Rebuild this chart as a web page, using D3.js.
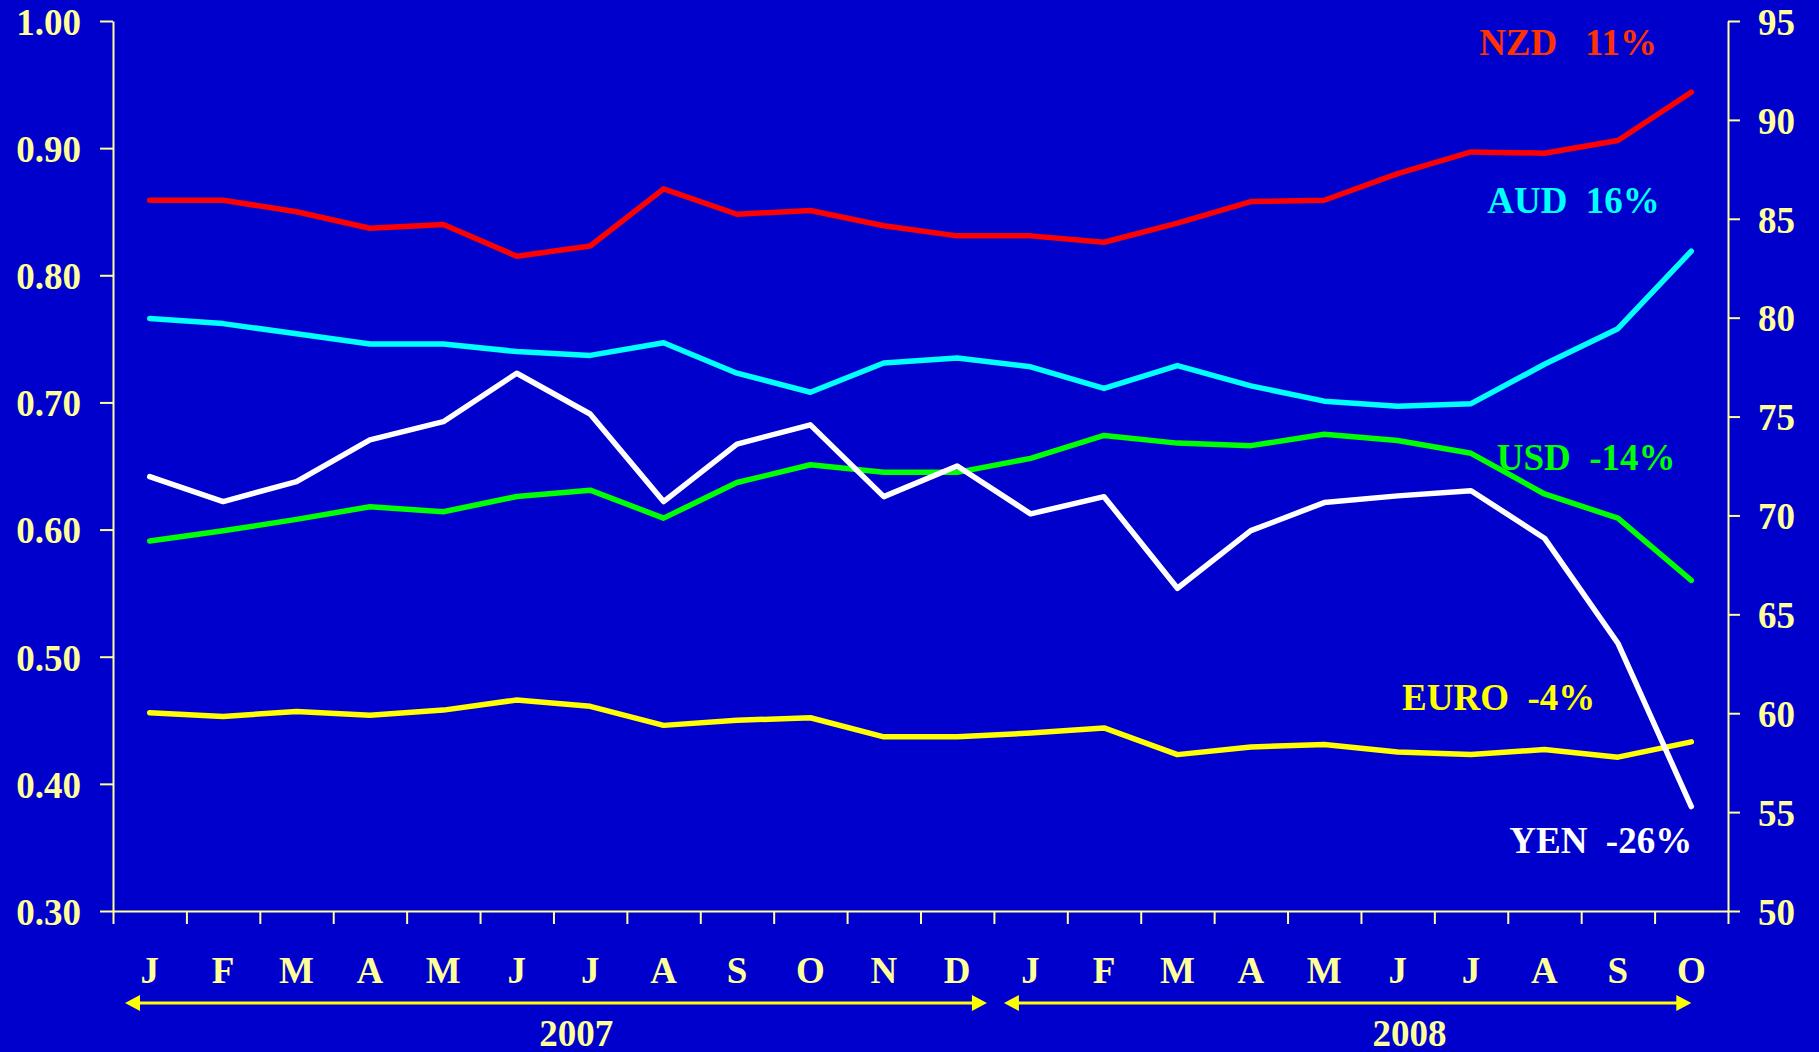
<!DOCTYPE html>
<html>
<head>
<meta charset="utf-8">
<script src="https://cdn.jsdelivr.net/npm/d3@7/dist/d3.min.js"></script>
<style>
    body { margin: 0; background: #0000cc; }
    svg { display: block; font-family: "Liberation Serif", "Times New Roman", serif; font-weight: bold; }
</style>
</head>
<body>
<div id="chart"></div>
<script>
// Months Jan 2007 .. Oct 2008
const months = ['J', 'F', 'M', 'A', 'M', 'J', 'J', 'A', 'S', 'O', 'N', 'D',
                'J', 'F', 'M', 'A', 'M', 'J', 'J', 'A', 'S', 'O'];
const years = ['2007', '2008'];

// left axis series
const nzd = [0.859, 0.859, 0.850, 0.837, 0.840, 0.815, 0.823, 0.868, 0.848, 0.851, 0.839,
             0.831, 0.831, 0.826, 0.841, 0.858, 0.859, 0.880, 0.897, 0.896, 0.906, 0.944];
const aud = [0.766, 0.762, 0.754, 0.746, 0.746, 0.740, 0.737, 0.747, 0.723, 0.708, 0.731,
             0.735, 0.728, 0.711, 0.729, 0.713, 0.701, 0.697, 0.699, 0.730, 0.758, 0.819];
const usd = [0.591, 0.599, 0.608, 0.618, 0.614, 0.626, 0.631, 0.609, 0.637, 0.651, 0.645,
             0.645, 0.656, 0.674, 0.668, 0.666, 0.675, 0.670, 0.660, 0.628, 0.609, 0.560];
const euro = [0.456, 0.453, 0.457, 0.454, 0.458, 0.466, 0.461, 0.446, 0.450, 0.452, 0.437,
              0.437, 0.440, 0.444, 0.423, 0.429, 0.431, 0.425, 0.423, 0.427, 0.421, 0.433];
// right axis series
const yen = [71.96, 70.70, 71.71, 73.82, 74.74, 77.19, 75.13, 70.70, 73.61, 74.58, 70.95,
             72.50, 70.08, 70.95, 66.32, 69.23, 70.65, 70.99, 71.25, 68.85, 63.54, 55.28];

const leftTicks = [0.30, 0.40, 0.50, 0.60, 0.70, 0.80, 0.90, 1.00];
const rightTicks = [50, 55, 60, 65, 70, 75, 80, 85, 90, 95];

// [name, label, data, axis, line colour, label colour, label month pos, label value]
const series = [
    ['nzd', 'NZD   11%', nzd, 'left', '#ff0000', '#ff3300', 18.61, 0.973],
    ['aud', 'AUD  16%', aud, 'left', '#00ffff', '#00ffff', 18.72, 0.849],
    ['usd', 'USD  -14%', usd, 'left', '#00ff00', '#00ff00', 18.85, 0.647],
    ['euro', 'EURO  -4%', euro, 'left', '#ffff00', '#ffff00', 17.56, 0.458],
    ['yen', 'YEN  -26%', yen, 'right', '#ffffff', '#ffffff', 19.02, 0.346],
];

const dim = { width: 1819, height: 1052, top: 21, bottom: 911, left: 113, right: 1728 };
const axis_color = '#ffff99';
const font_size = 37;

const svg = d3.select('#chart')
    .append('svg')
    .attr('width', dim.width)
    .attr('height', dim.height);

svg.append('rect')
    .attr('width', dim.width)
    .attr('height', dim.height)
    .attr('fill', '#0000cc');

// month index (band edges) -> px
const xIdx = d3.scaleLinear()
    .domain([0, months.length])
    .range([dim.left, dim.right]);
const x = (i) => xIdx(i + 0.5);

const yLeft = d3.scaleLinear()
    .domain([0.3, 1.0])
    .range([dim.bottom, dim.top]);
const yRight = d3.scaleLinear()
    .domain([50, 95])
    .range([dim.bottom, dim.top]);

function style_axis(g) {
    g.select('.domain').attr('stroke', axis_color).attr('stroke-width', 2);
    g.selectAll('.tick line').attr('stroke', axis_color).attr('stroke-width', 2);
    g.selectAll('.tick text')
        .attr('fill', axis_color)
        .attr('font-size', font_size)
        .attr('font-family', '"Liberation Serif", serif')
        .attr('font-weight', 'bold');
}

svg.append('g')
    .attr('transform', `translate(${dim.left}, 0)`)
    .call(d3.axisLeft(yLeft)
        .tickValues(leftTicks)
        .tickSize(13)
        .tickSizeOuter(0)
        .tickPadding(19)
        .tickFormat(d3.format('.2f')))
    .call(style_axis)
    .selectAll('.tick text').attr('dy', '0.36em');

svg.append('g')
    .attr('transform', `translate(${dim.right}, 0)`)
    .call(d3.axisRight(yRight)
        .tickValues(rightTicks)
        .tickSize(12)
        .tickSizeOuter(0)
        .tickPadding(18)
        .tickFormat(d3.format('d')))
    .call(style_axis)
    .selectAll('.tick text').attr('dy', '0.36em');

svg.append('g')
    .attr('transform', `translate(0, ${dim.bottom})`)
    .call(d3.axisBottom(xIdx)
        .tickValues(d3.range(0, months.length + 1))
        .tickSize(13)
        .tickSizeOuter(0)
        .tickFormat(() => ''))
    .call(style_axis);

// month letters under the bands
svg.append('g')
    .selectAll('text')
    .data(months)
    .join('text')
        .attr('x', (d, i) => x(i))
        .attr('y', dim.bottom + 72)
        .attr('text-anchor', 'middle')
        .attr('fill', axis_color)
        .attr('font-size', font_size)
        .text((d) => d);

// year arrows
const arrow_y = dim.bottom + 92;
const arrows = [
    [xIdx(0) + 12, xIdx(12) - 7],
    [xIdx(12) + 10, x(months.length - 1)],
];
const arrow_g = svg.append('g');
arrows.forEach(([x0, x1]) => {
    arrow_g.append('line')
        .attr('x1', x0 + 10).attr('x2', x1 - 10)
        .attr('y1', arrow_y).attr('y2', arrow_y)
        .attr('stroke', '#ffff00')
        .attr('stroke-width', 3);
    arrow_g.append('path')
        .attr('d', `M${x0},${arrow_y}l15,-8v16z`)
        .attr('fill', '#ffff00');
    arrow_g.append('path')
        .attr('d', `M${x1},${arrow_y}l-15,-8v16z`)
        .attr('fill', '#ffff00');
});

svg.append('g')
    .selectAll('text')
    .data(years)
    .join('text')
        .attr('x', (d, i) => xIdx([6.31, 17.66][i]))
        .attr('y', dim.bottom + 135)
        .attr('text-anchor', 'middle')
        .attr('fill', axis_color)
        .attr('font-size', font_size)
        .text((d) => d);

// series lines
const lines_g = svg.append('g');
series.forEach(([name, label, values, side, color]) => {
    const y = side === 'left' ? yLeft : yRight;
    lines_g.append('path')
        .datum(values)
        .attr('class', `line ${name}`)
        .attr('fill', 'none')
        .attr('stroke', color)
        .attr('stroke-width', 5.5)
        .attr('stroke-linejoin', 'round')
        .attr('stroke-linecap', 'round')
        .attr('d', d3.line()
            .x((d, i) => x(i))
            .y((d) => y(d)));
});

// series labels
svg.append('g')
    .selectAll('text')
    .data(series)
    .join('text')
        .attr('x', (d) => xIdx(d[6]))
        .attr('y', (d) => yLeft(d[7]))
        .attr('fill', (d) => d[5])
        .attr('font-size', font_size)
        .style('white-space', 'pre')
        .text((d) => d[1]);
</script>
</body>
</html>
